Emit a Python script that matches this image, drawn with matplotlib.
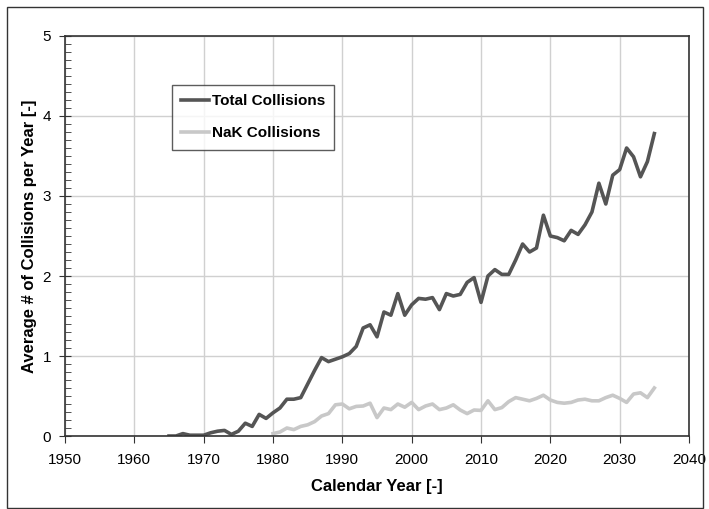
import matplotlib
matplotlib.use("Agg")
import matplotlib.pyplot as plt
from matplotlib.patches import Rectangle
from matplotlib.ticker import MultipleLocator

plt.rcParams['font.family'] = ['Liberation Sans', 'DejaVu Sans']

# yearly averages, total and NaK-droplet collisions
years_total = list(range(1965, 2036))
total = [0.0, 0.0, 0.03, 0.01, 0.01, 0.01, 0.04, 0.06, 0.07, 0.02,
         0.06, 0.16, 0.12, 0.27, 0.22, 0.29, 0.35, 0.46, 0.46, 0.48,
         0.65, 0.82, 0.98, 0.93, 0.96, 0.99, 1.03, 1.12, 1.35, 1.39,
         1.24, 1.55, 1.51, 1.78, 1.51, 1.64, 1.72, 1.71, 1.73, 1.58,
         1.78, 1.75, 1.77, 1.92, 1.98, 1.67, 2.00, 2.08, 2.02, 2.02,
         2.20, 2.40, 2.30, 2.35, 2.76, 2.50, 2.48, 2.44, 2.57, 2.52,
         2.64, 2.80, 3.16, 2.90, 3.26, 3.33, 3.60, 3.49, 3.24, 3.43,
         3.78]

years_nak = list(range(1980, 2036))
nak = [0.03, 0.05, 0.10, 0.08, 0.12, 0.14, 0.18, 0.25, 0.28, 0.39,
       0.40, 0.34, 0.37, 0.375, 0.41, 0.23, 0.35, 0.33, 0.40, 0.36,
       0.42, 0.33, 0.375, 0.40, 0.33, 0.35, 0.39, 0.325, 0.28, 0.325,
       0.32, 0.44, 0.33, 0.355, 0.43, 0.48, 0.46, 0.44, 0.47, 0.51,
       0.45, 0.42, 0.41, 0.42, 0.45, 0.46, 0.44, 0.44, 0.48, 0.51,
       0.47, 0.42, 0.525, 0.54, 0.48, 0.60]

fig = plt.figure(figsize=(7.09, 5.09), dpi=100)
ax = fig.add_axes([0.0917, 0.1434, 0.8801, 0.7859])

ax.plot(years_total, total, color='#555555', lw=2.6, label='Total Collisions')
ax.plot(years_nak, nak, color='#c8c8c8', lw=2.6, label='NaK Collisions')

ax.set_xlim(1950, 2040)
ax.set_ylim(0, 5)
ax.xaxis.set_major_locator(MultipleLocator(10))
ax.yaxis.set_major_locator(MultipleLocator(1))
ax.yaxis.set_minor_locator(MultipleLocator(0.1))
ax.grid(True, which='major', color='#d0d0d0', lw=1)
ax.set_axisbelow(True)

ax.tick_params(axis='x', which='major', direction='out', length=5,
               labelsize=11, pad=7, color='#333333')
ax.tick_params(axis='y', which='major', direction='inout', length=8,
               labelsize=11, pad=6, color='#333333')
ax.tick_params(axis='y', which='minor', direction='in', length=4,
               color='#333333')
for s in ax.spines.values():
    s.set_color('#333333')
    s.set_linewidth(1.2)

ax.set_xlabel('Calendar Year [-]', fontsize=12, fontweight='bold', labelpad=9)
ax.set_ylabel('Average # of Collisions per Year [-]', fontsize=12,
              fontweight='bold', labelpad=4)

leg = ax.legend(loc='upper left', bbox_to_anchor=(172 / 709, 1 - 85 / 509),
                bbox_transform=fig.transFigure, frameon=True, fancybox=False,
                prop={'weight': 'bold', 'size': 11}, handlelength=1.8,
                handletextpad=0.2, labelspacing=1.2, borderpad=0.6,
                borderaxespad=0)
leg.get_frame().set_edgecolor('#333333')
leg.get_frame().set_linewidth(1.0)

# outer frame around the whole figure
fig.patches.append(Rectangle((7 / 709, 1 / 509), 696 / 709, 501 / 509,
                             transform=fig.transFigure, fill=False,
                             edgecolor='#333333', lw=1))

fig.savefig('out.png', dpi=100)
